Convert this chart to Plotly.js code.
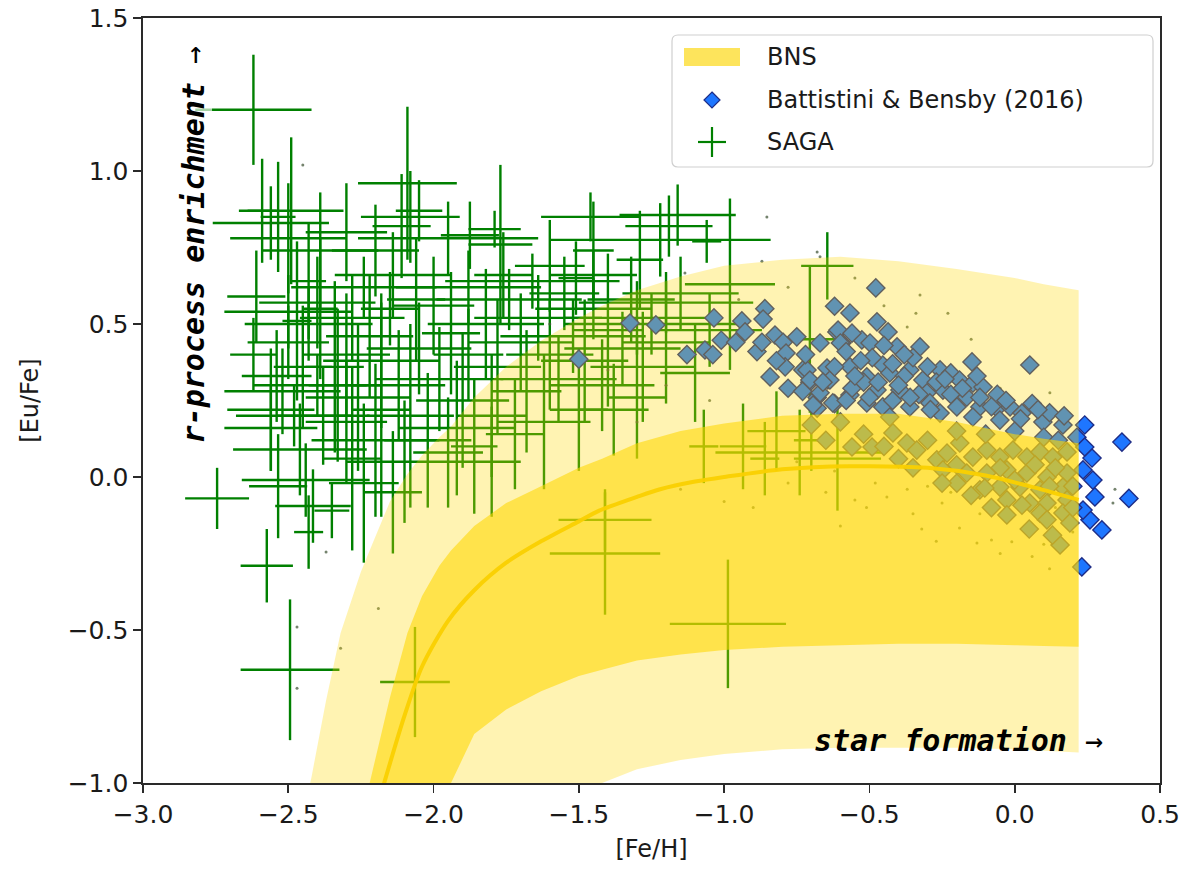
<!DOCTYPE html>
<html>
<head>
<meta charset="utf-8">
<script src="https://cdn.plot.ly/plotly-3.0.1.min.js"></script>
<style>html,body{margin:0;padding:0;background:#fff;}#chart{width:1192px;height:870px;}</style>
</head>
<body>
<div id="chart"></div>
<script>
// ---------------- SAGA (x, y, xerr, yerr) ----------------
const sagaFeH = [
-2.62,-2.09,-2.08,-2.05,-2.11,-2.49,-2.56,-2.50,-2.39,-1.77,
-1.22,-1.16,-1.19,-2.535,-2.59,-1.875,-1.60,-1.51,-1.45,-1.29,
-0.98,-0.645,-0.705,-1.06,-1.46,-1.95,-1.79,
-2.61,-2.40,-2.50,-2.54,-2.43,-2.47,-2.39,-2.43,-2.52,-2.30,
-2.33,-2.46,-2.44,-2.415,-2.43,-2.535,-2.35,
-2.28,-2.22,-2.18,-2.15,-2.12,-2.26,-2.30,-2.20,-2.08,-2.05,
-2.00,-1.98,-1.94,-1.90,-1.88,-2.14,-2.24,-2.34,-2.10,-2.02,
-2.18,-2.28,-1.95,-2.06,-2.38,-2.50,-2.56,-2.40,-2.20,-2.30,
-1.82,-1.78,-1.74,-1.70,-1.68,-1.64,-1.60,-1.57,-1.55,-1.52,
-1.48,-1.45,-1.42,-1.40,-1.35,-1.32,-1.28,-1.25,-1.20,-1.15,
-1.10,-1.05,-1.80,-1.72,-1.62,-1.88,-1.76,-1.66,-1.50,-1.38,
-1.30,-1.86,-1.80,-1.92,-2.24,-2.14,
-0.74,-0.61,-0.935,-0.82,-0.70,-1.41,-1.41,-0.987,-2.064,-2.494,
-2.574,-2.745,-1.07,-0.86,
-1.20,-1.30,-1.45,-2.56,-2.48,-2.62,-2.45
];
const sagaEuFe = [
1.20,0.96,0.85,0.87,0.82,0.87,0.83,0.78,0.74,0.76,
0.775,0.856,0.82,0.85,0.87,0.79,0.69,0.65,0.74,0.71,
0.63,0.69,0.45,0.77,0.85,0.78,0.81,
0.59,0.57,0.54,0.33,0.64,0.51,0.55,0.50,0.28,0.40,
0.30,0.09,-0.01,-0.095,-0.18,-0.03,-0.11,
0.52,0.46,0.38,0.55,0.30,0.26,0.18,0.12,0.20,0.42,
0.56,0.32,0.47,0.25,0.62,0.66,0.62,0.36,0.05,0.12,
0.22,0.06,0.08,0.58,0.20,0.44,0.16,0.30,0.74,0.80,
0.50,0.36,0.58,0.44,0.28,0.52,0.40,0.32,0.60,0.46,
0.38,0.55,0.30,0.48,0.42,0.58,0.36,0.50,0.44,0.60,
0.34,0.48,0.20,0.14,0.18,0.40,0.66,0.64,0.22,0.22,
0.26,0.10,0.05,0.16,-0.02,-0.05,
0.08,0.06,0.10,0.15,0.12,-0.14,-0.25,-0.48,-0.67,-0.63,
-0.29,-0.07,0.10,0.06,
0.57,0.52,0.66,0.22,0.20,0.40,0.36
];
const sagaErrFeH = [
0.20,0.17,0.17,0.08,0.10,0.18,0.20,0.20,0.20,0.11,
0.38,0.20,0.15,0.06,0.05,0.10,0.12,0.06,0.07,0.08,
0.155,0.09,0.10,0.05,0.17,0.31,0.09,
0.10,0.20,0.22,0.12,0.06,0.05,0.06,0.22,0.20,0.15,
0.10,0.23,0.22,0.13,0.05,0.10,0.06,
0.18,0.15,0.20,0.10,0.16,0.18,0.14,0.22,0.15,0.18,
0.14,0.22,0.10,0.16,0.25,0.20,0.25,0.10,0.20,0.15,
0.10,0.10,0.12,0.10,0.16,0.14,0.16,0.22,0.15,0.14,
0.20,0.15,0.25,0.18,0.12,0.22,0.15,0.20,0.12,0.25,
0.15,0.20,0.18,0.12,0.20,0.15,0.18,0.30,0.15,0.20,
0.12,0.18,0.12,0.10,0.16,0.12,0.10,0.30,0.10,0.12,
0.10,0.08,0.10,0.20,0.12,0.10,
0.29,0.15,0.08,0.10,0.06,0.16,0.19,0.20,0.12,0.17,
0.09,0.11,0.05,0.05,
0.30,0.25,0.15,0.15,0.20,0.08,0.10
];
const sagaErrEuFe = [
0.18,0.25,0.15,0.10,0.17,0.24,0.12,0.18,0.19,0.26,
0.12,0.10,0.10,0.18,0.17,0.11,0.15,0.12,0.16,0.16,
0.28,0.11,0.24,0.07,0.08,0.12,0.06,
0.15,0.15,0.12,0.15,0.19,0.26,0.23,0.12,0.14,0.20,
0.25,0.15,0.12,0.12,0.12,0.17,0.09,
0.14,0.20,0.22,0.12,0.18,0.24,0.20,0.25,0.30,0.15,
0.16,0.17,0.20,0.22,0.12,0.14,0.10,0.28,0.20,0.22,
0.35,0.30,0.18,0.20,0.16,0.12,0.14,0.10,0.15,0.16,
0.18,0.22,0.10,0.16,0.20,0.14,0.18,0.14,0.12,0.12,
0.20,0.10,0.15,0.25,0.12,0.14,0.18,0.10,0.20,0.12,
0.16,0.12,0.20,0.18,0.22,0.15,0.14,0.09,0.20,0.15,
0.20,0.22,0.18,0.22,0.26,0.20,
0.14,0.17,0.14,0.13,0.10,0.10,0.20,0.21,0.18,0.23,
0.12,0.10,0.12,0.12,
0.10,0.12,0.08,0.20,0.10,0.12,0.20
];

// ---------------- Battistini & Bensby (2016) ----------------
const bbFeH = [
-1.50,-1.324,-1.235,-1.035,-1.128,-1.066,-1.039,-1.01,-0.939,-0.928,
-0.86,-0.866,-0.887,-0.87,-0.825,-0.797,-0.75,-0.787,-0.79,-0.842,
-0.78,-0.62,-0.612,-0.595,-0.67,-0.729,-0.705,-0.643,-0.68,-0.62,-0.68,
-0.478,-0.567,-0.474,-0.436,-0.405,-0.326,-0.608,-0.526,-0.60,-0.498,
-0.147,0.052,-0.715,-0.646,-0.567,-0.454,-0.361,-0.257,-0.22,
-0.705,-0.636,-0.509,-0.43,-0.316,-0.19,-0.144,-0.109,
-0.67,-0.567,-0.474,-0.395,-0.302,-0.247,-0.165,
-0.694,-0.626,-0.509,-0.454,-0.361,-0.292,-0.199,-0.12,-0.061,-0.016,0.025,
-0.43,-0.257,-0.144,-0.051,0.097,0.166,0.214,
-0.06,0.06,0.12,0.17,-0.38,-0.33,-0.22,-0.08,0.02,-0.56,-0.52,-0.58,-0.49,-0.42,-0.35,
-0.55,-0.47,-0.40,-0.27,-0.18,-0.12,-0.03,0.08,-0.66,-0.73,-0.58,-0.50,-0.36,-0.29,
-0.42,-0.62,-0.53,-0.45,-0.38,-0.30,-0.24,-0.13,-0.56,-0.72,-0.82,-0.96,
0.241,0.369,0.266,0.269,0.276,0.393,0.259,0.30,0.235,0.235,0.231,0.241,
-0.60,-0.56,-0.491,-0.419,-0.371,-0.337,-0.268,-0.233,-0.189,-0.144,
-0.096,-0.051,-0.006,0.042,0.087,0.131,0.18,-0.247,-0.165,-0.096,
-0.027,0.042,0.111,0.18,-0.199,-0.12,-0.051,0.018,0.087,0.166,
-0.027,0.052,0.111,0.18,-0.027,0.025,0.087,0.166,0.111,0.19,
0.156,-0.103,-0.70,
-0.45,-0.30,-0.20,-0.10,0.00,0.10,0.15,-0.35,-0.20,-0.05,0.07,0.14,
-0.15,0.00,0.12,0.05,0.13,0.20,-0.08,0.20,-0.40,-0.52,-0.65,-0.25
];
const bbEuFe = [
0.385,0.503,0.497,0.52,0.40,0.415,0.40,0.447,0.51,0.474,
0.55,0.516,0.41,0.44,0.464,0.44,0.458,0.405,0.36,0.327,
0.29,0.558,0.474,0.438,0.438,0.35,0.31,0.317,0.26,0.24,0.225,
0.618,0.536,0.507,0.474,0.425,0.425,0.48,0.448,0.438,0.438,
0.376,0.366,0.35,0.356,0.36,0.366,0.35,0.35,0.34,
0.317,0.317,0.327,0.34,0.317,0.317,0.307,0.294,
0.275,0.268,0.284,0.284,0.275,0.284,0.261,
0.235,0.242,0.242,0.229,0.229,0.242,0.229,0.229,0.225,0.229,0.209,
0.196,0.209,0.196,0.186,0.18,0.17,0.13,
0.27,0.24,0.21,0.20,0.33,0.27,0.27,0.23,0.19,0.29,0.31,0.41,0.39,0.37,0.39,
0.33,0.31,0.30,0.31,0.29,0.26,0.25,0.22,0.31,0.28,0.25,0.26,0.26,0.22,
0.25,0.36,0.38,0.43,0.40,0.36,0.32,0.33,0.47,0.40,0.38,0.44,
0.17,0.114,0.062,-0.01,-0.065,-0.07,-0.14,-0.173,0.023,-0.108,-0.294,0.098,
0.18,0.098,0.098,0.144,0.111,0.088,0.056,0.078,0.111,0.065,
0.088,0.065,0.088,0.065,0.082,0.065,0.082,0.023,0.013,0.013,
0.023,0.013,0.0,0.013,-0.02,-0.042,-0.033,-0.033,-0.042,-0.033,
-0.075,-0.085,-0.085,-0.075,-0.124,-0.092,-0.118,-0.118,-0.14,-0.15,
-0.222,-0.036,0.17,
0.10,0.12,0.15,0.14,0.15,0.13,0.12,0.03,0.04,0.03,0.04,0.03,
-0.06,-0.01,-0.03,-0.17,-0.19,-0.10,-0.10,-0.03,0.06,0.14,0.12,-0.02
];

// ---------------- model realisations (small dots) ----------------
const modelFeH = [
-2.19,-2.32,-2.47,-2.47,-2.37,-2.45,
-0.853,-0.68,-0.67,-0.87,-1.135,-0.326,-0.23,-0.34,-0.37,0.121,-0.05,0.345,0.338,
-0.51,-0.44,-0.55,-0.27,-0.19,-0.13,-0.08,-0.01,0.06,-0.37,-0.30,-0.25,-0.65,-0.78,
-0.90,-1.00,-1.15,-1.30,-1.05,-0.95,-0.78,-0.55,-0.45,-0.15,0.00,0.15,0.18,-0.02,
0.08,-0.12,-0.35,-0.60,0.12,0.20,-0.42,-0.75,-1.20,-1.40,-1.60,-0.05,0.04,0.10,
-0.22,-0.32,0.14,-0.48,-0.62
];
const modelEuFe = [
-0.43,-0.56,-0.49,-0.69,-0.245,1.02,
0.85,0.735,0.72,0.705,0.667,0.595,0.535,0.535,0.49,0.275,0.29,-0.04,-0.085,
-0.10,-0.065,-0.075,-0.21,-0.167,-0.216,-0.206,-0.212,-0.26,-0.04,-0.03,-0.085,-0.05,-0.02,
-0.10,-0.08,-0.04,0.18,0.25,0.58,0.62,0.65,0.56,0.45,0.12,0.05,-0.03,0.04,
-0.14,-0.12,-0.12,-0.16,-0.30,-0.18,0.15,0.05,0.30,0.35,0.50,-0.25,-0.18,-0.22,
-0.05,-0.17,-0.10,-0.02,0.02
];

// ---------------- BNS model bands ----------------
const outerFeH   = [-2.46,-2.42,-2.37,-2.32,-2.25,-2.22,-2.15,-2.09,-2.04,-1.98,-1.94,-1.86,-1.75,-1.63,-1.50,-1.42,-1.30,-1.15,-1.00,-0.80,-0.60,-0.40,-0.20,0.00,0.10,0.22];
const outerUpper = [-1.15,-0.98,-0.73,-0.51,-0.31,-0.24,-0.08,0.01,0.07,0.13,0.165,0.26,0.36,0.445,0.52,0.56,0.61,0.655,0.69,0.71,0.72,0.705,0.68,0.65,0.63,0.61];
const outerLower = [-1.60,-1.60,-1.60,-1.60,-1.60,-1.60,-1.60,-1.60,-1.60,-1.60,-1.60,-1.60,-1.50,-1.30,-1.09,-1.00,-0.955,-0.925,-0.905,-0.89,-0.885,-0.885,-0.885,-0.89,-0.895,-0.90];
const innerFeH   = [-2.24,-2.22,-2.15,-2.09,-2.04,-1.98,-1.94,-1.86,-1.75,-1.63,-1.50,-1.42,-1.30,-1.15,-1.00,-0.80,-0.60,-0.40,-0.20,0.00,0.10,0.22];
const innerUpper = [-1.08,-1.00,-0.72,-0.51,-0.39,-0.29,-0.24,-0.16,-0.085,-0.03,0.03,0.06,0.11,0.15,0.175,0.20,0.207,0.207,0.18,0.14,0.125,0.11];
const innerLower = [-1.60,-1.60,-1.60,-1.60,-1.60,-1.10,-1.00,-0.84,-0.76,-0.70,-0.65,-0.63,-0.60,-0.58,-0.565,-0.555,-0.55,-0.545,-0.545,-0.55,-0.552,-0.555];
const medianFeH  = [-2.20,-2.17,-2.10,-2.04,-1.95,-1.86,-1.75,-1.63,-1.50,-1.43,-1.30,-1.22,-1.10,-1.00,-0.80,-0.57,-0.30,-0.10,0.05,0.22];
const medianEuFe = [-1.10,-1.00,-0.78,-0.62,-0.47,-0.37,-0.28,-0.21,-0.145,-0.11,-0.065,-0.04,-0.015,0.00,0.025,0.035,0.03,0.005,-0.03,-0.075];

const legendNames = ['BNS', 'Battistini & Bensby (2016)', 'SAGA'];

function polygon(xs, up, lo) {
  return { x: xs.concat(xs.slice().reverse()), y: up.concat(lo.slice().reverse()) };
}
const outerPoly = polygon(outerFeH, outerUpper, outerLower);
const innerPoly = polygon(innerFeH, innerUpper, innerLower);

const GOLD = '255,215,0';
const SAGA_GREEN = 'rgb(0,128,0)';
const BB_FILL = 'rgb(30,118,255)';
const BB_LINE = 'rgb(30,45,135)';

const traces = [
  { type: 'scatter', mode: 'markers', x: sagaFeH, y: sagaEuFe, name: legendNames[2],
    marker: { size: 1, color: 'rgba(0,0,0,0)' },
    error_x: { type: 'data', array: sagaErrFeH, color: SAGA_GREEN, thickness: 2.4, width: 0 },
    error_y: { type: 'data', array: sagaErrEuFe, color: SAGA_GREEN, thickness: 2.4, width: 0 },
    hoverinfo: 'skip' },
  { type: 'scatter', mode: 'markers', x: modelFeH, y: modelEuFe,
    marker: { size: 3, color: 'rgba(70,90,60,0.75)' }, hoverinfo: 'skip' },
  { type: 'scatter', mode: 'markers', x: bbFeH, y: bbEuFe, name: legendNames[1],
    marker: { symbol: 'diamond', size: 14, color: BB_FILL, line: { color: BB_LINE, width: 1.4 } } },
  { type: 'scatter', mode: 'none', x: outerPoly.x, y: outerPoly.y, fill: 'toself',
    fillcolor: 'rgba(' + GOLD + ',0.30)', hoverinfo: 'skip' },
  { type: 'scatter', mode: 'none', x: innerPoly.x, y: innerPoly.y, fill: 'toself', name: legendNames[0],
    fillcolor: 'rgba(' + GOLD + ',0.58)', hoverinfo: 'skip' },
  { type: 'scatter', mode: 'lines', x: medianFeH, y: medianEuFe,
    line: { color: 'rgba(250,208,0,0.95)', width: 4, shape: 'spline', smoothing: 0.8 }, hoverinfo: 'skip' }
];

// ---- legend drawn in paper coordinates (plot area is 1017 x 765 px) ----
const PW = 1017, PH = 765;
const px = v => (v - 143) / PW;
const py = v => (783 - v) / PH;
function roundRect(x0, y0, x1, y1, r) {
  const rx = r / PW, ry = r / PH;
  const X0 = px(x0), X1 = px(x1), Yt = py(y0), Yb = py(y1);
  return `M${X0+rx},${Yb} L${X1-rx},${Yb} Q${X1},${Yb} ${X1},${Yb+ry} L${X1},${Yt-ry} Q${X1},${Yt} ${X1-rx},${Yt} ` +
         `L${X0+rx},${Yt} Q${X0},${Yt} ${X0},${Yt-ry} L${X0},${Yb+ry} Q${X0},${Yb} ${X0+rx},${Yb} Z`;
}
function diamondPath(cx, cy, h) {
  return `M${px(cx)},${py(cy-h)} L${px(cx+h)},${py(cy)} L${px(cx)},${py(cy+h)} L${px(cx-h)},${py(cy)} Z`;
}
const legendRows = [57, 100, 142];
const symX = 712, textX = 765;
const shapes = [
  { type: 'path', xref: 'paper', yref: 'paper', layer: 'above', path: roundRect(672, 35, 1153, 167, 6),
    fillcolor: 'rgba(255,255,255,0.85)', line: { color: '#cfcfcf', width: 1.2 } },
  { type: 'rect', xref: 'paper', yref: 'paper', layer: 'above',
    x0: px(684), x1: px(740), y0: py(66), y1: py(48),
    fillcolor: 'rgb(253,228,92)', line: { width: 0 } },
  { type: 'path', xref: 'paper', yref: 'paper', layer: 'above', path: diamondPath(symX, legendRows[1], 8),
    fillcolor: BB_FILL, line: { color: BB_LINE, width: 1.2 } },
  { type: 'line', xref: 'paper', yref: 'paper', layer: 'above',
    x0: px(symX - 14), x1: px(symX + 14), y0: py(legendRows[2]), y1: py(legendRows[2]),
    line: { color: SAGA_GREEN, width: 2.2 } },
  { type: 'line', xref: 'paper', yref: 'paper', layer: 'above',
    x0: px(symX), x1: px(symX), y0: py(legendRows[2] - 15), y1: py(legendRows[2] + 15),
    line: { color: SAGA_GREEN, width: 2.2 } }
];
const legendAnnotations = legendNames.map((t, i) => ({
  xref: 'paper', yref: 'paper', x: px(textX), y: py(legendRows[i]), xanchor: 'left', yanchor: 'middle',
  text: t, showarrow: false, font: { family: 'DejaVu Sans', size: 24, color: '#1a1a1a' }
}));

const axisCommon = {
  showgrid: false, zeroline: false, showline: true, mirror: true,
  linecolor: '#2a2a2a', linewidth: 1.6,
  ticks: 'outside', ticklen: 8, tickwidth: 1.6, tickcolor: '#2a2a2a',
  dtick: 0.5, tickformat: '.1f',
  tickfont: { family: 'DejaVu Sans', size: 25, color: '#1a1a1a' }
};

const layout = {
  width: 1192, height: 870,
  margin: { l: 143, r: 32, t: 18, b: 87 },
  paper_bgcolor: '#fff', plot_bgcolor: '#fff',
  font: { family: 'DejaVu Sans', color: '#1a1a1a' },
  showlegend: false,
  xaxis: Object.assign({}, axisCommon, {
    range: [-3.0, 0.5], tick0: -3.0,
    title: { text: '[Fe/H]', font: { size: 24, family: 'DejaVu Sans' }, standoff: 12 }
  }),
  yaxis: Object.assign({}, axisCommon, {
    range: [-1.0, 1.5], tick0: -1.0,
    title: { text: '[Eu/Fe]', font: { size: 24, family: 'DejaVu Sans' }, standoff: 22 }
  }),
  shapes: shapes,
  annotations: [
    {
      xref: 'x', yref: 'y', x: -2.828, y: 0.76, textangle: -90,
      text: '<b><i>r-process enrichment</i></b> →', showarrow: false,
      font: { family: 'DejaVu Sans Mono', size: 30, color: '#000' },
      bgcolor: 'rgba(255,255,255,0.65)', borderpad: 1
    },
    {
      xref: 'x', yref: 'y', x: -0.195, y: -0.86,
      text: '<b><i>star formation</i></b> →', showarrow: false,
      font: { family: 'DejaVu Sans Mono', size: 30, color: '#000' }
    }
  ].concat(legendAnnotations)
};

Plotly.newPlot('chart', traces, layout, { displayModeBar: false, staticPlot: true });
</script>
</body>
</html>
